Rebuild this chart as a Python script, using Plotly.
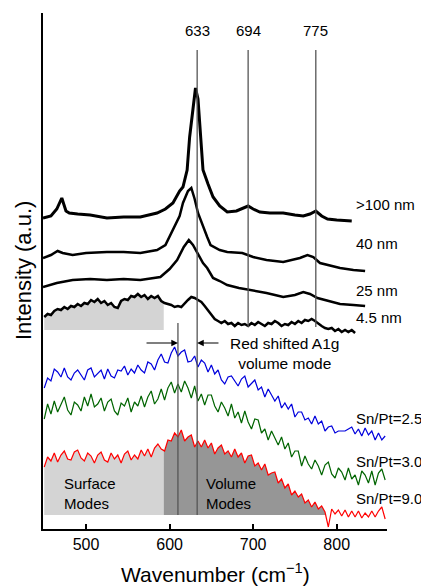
import plotly.graph_objects as go

FONT = "Liberation Sans, Arial, Helvetica, sans-serif"

# ---- black spectra (particle size series) ----
X_100 = [448.5, 458, 465, 471, 476, 480, 490, 505, 525, 545, 565, 585, 595, 604, 612, 616, 621, 624, 628, 631,
         634, 637, 640, 646, 652, 660, 669, 680, 694, 700, 708, 720, 736, 750, 760, 768, 775, 782, 789, 800, 818]
Y_100 = [311, 313, 320, 331, 318, 316, 315, 314, 311, 312, 312, 316, 320, 326, 338, 342, 359, 392, 420, 441,
         430, 392, 359, 345, 332, 323, 317, 318, 323, 320, 317, 316, 316, 314, 313, 315, 318, 313, 310, 309, 308]

X_40 = [448.5, 458, 466, 472, 484, 500, 525, 545, 565, 585, 595, 604, 612, 616, 622, 626, 630, 634, 640, 645,
        649, 660, 669, 687, 700, 716, 736, 756, 765, 772, 780, 795, 804, 820, 834]
Y_40 = [271, 274, 278, 276, 274, 276, 277, 277, 276, 279, 284, 299, 313, 326, 338, 341, 330, 316, 302, 292,
        284, 279, 277, 276, 272, 269, 267, 271, 274, 272, 266, 263, 261, 259, 258]

X_25 = [448.5, 465, 484, 505, 525, 545, 565, 589, 600, 609, 617, 623, 628, 633, 640, 645, 652, 660, 669, 683,
        696, 716, 736, 750, 760, 768, 777, 790, 804, 820, 834]
Y_25 = [242, 246, 249, 250, 249, 250, 249, 252, 260, 269, 282, 289, 284, 276, 266, 261, 251, 248, 244, 241,
        239, 236, 232, 234, 237, 235, 231, 228, 225, 224, 223]

# 4.5 nm, sampled every 4 cm-1 from 450
Y_45 = [212, 215, 214, 218, 220, 219, 222, 220, 223, 222,
        225, 223, 226, 225, 229, 227, 230, 226, 228, 224,
        226, 222, 221, 228, 230, 229, 233, 232, 235, 232,
        234, 230, 233, 231, 233, 228, 226, 225, 224, 222,
        223, 222, 226, 229, 232, 231, 229, 227, 223, 219,
        215, 210, 208, 206, 208, 205, 206, 203, 206, 204,
        205, 203, 206, 204, 207, 205, 203, 206, 205, 208,
        206, 203, 205, 204, 207, 205, 208, 206, 209, 208,
        210, 208, 205, 203, 201, 200, 201, 198, 200, 197,
        199, 197, 199, 196]

# ---- coloured spectra (Sn/Pt series), sampled every 4 cm-1 from 450 ----
Y_SN25 = [141, 151, 148, 160, 157, 152, 161, 152, 149, 156,
          159, 154, 149, 159, 161, 152, 155, 159, 150, 160,
          153, 151, 159, 158, 163, 154, 160, 156, 164, 159,
          156, 167, 165, 159, 169, 175, 167, 166, 176, 182,
          173, 177, 179, 167, 168, 173, 162, 169, 166, 157,
          164, 155, 159, 149, 145, 152, 153, 148, 143, 150,
          153, 142, 145, 149, 139, 142, 132, 140, 134, 128,
          133, 121, 126, 120, 125, 112, 117, 117, 109, 111,
          105, 113, 105, 108, 98, 102, 103, 96, 98, 98,
          98, 100, 102, 95, 100, 93, 101, 94, 98, 89,
          96, 89, 93]
Y_SN30 = [110, 125, 115, 128, 117, 125, 132, 119, 114, 127,
          124, 118, 132, 123, 135, 122, 125, 131, 118, 127,
          130, 118, 114, 126, 123, 131, 117, 127, 123, 133,
          122, 132, 138, 125, 130, 140, 129, 141, 147, 136,
          145, 137, 148, 141, 131, 143, 128, 135, 124, 134,
          134, 123, 117, 127, 121, 113, 125, 111, 117, 106,
          118, 107, 100, 110, 109, 96, 100, 89, 98, 91,
          84, 92, 80, 86, 72, 78, 78, 63, 73, 65,
          60, 69, 63, 54, 64, 67, 55, 51, 61, 57,
          49, 61, 50, 54, 44, 58, 54, 46, 58, 44,
          56, 60, 49]
Y_SN90 = [62, 72, 68, 76, 67, 74, 78, 70, 69, 77,
          79, 71, 68, 76, 73, 66, 74, 77, 69, 67,
          76, 70, 74, 66, 75, 78, 69, 74, 70, 79,
          73, 80, 72, 81, 85, 80, 78, 89, 88, 96,
          92, 99, 88, 92, 94, 82, 88, 82, 89, 81,
          86, 75, 81, 84, 75, 78, 72, 80, 72, 76,
          66, 73, 74, 63, 66, 59, 65, 54, 56, 57,
          46, 50, 41, 45, 34, 38, 32, 35, 26, 29,
          22, 27, 20, 23, 17, 2, 20, 15, 19, 13,
          19, 12, 18, 12, 18, 11, 16, 12, 18, 12,
          18, 22, 10]

GRID_START, GRID_STEP = 450, 4

def grid(n):
    return [GRID_START + GRID_STEP * i for i in range(n)]

X_45 = grid(len(Y_45))
X_SN = grid(len(Y_SN25))

# region boundaries
SURFACE_END = 593
VOLUME_END = 786
BASE_BOTTOM = 14
BASE_TOP = 199

PEAKS = [633, 694, 775]
SHIFTED = 610

fig = go.Figure()

def poly(xs, ys, x0, x1, base, left_edge=None, right_edge=None):
    sx = [x for x in xs if x0 <= x <= x1]
    sy = [y for x, y in zip(xs, ys) if x0 <= x <= x1]
    px, py = list(sx), list(sy)
    if left_edge is not None:
        px = [left_edge] + px
        py = [sy[0]] + py
    if right_edge is not None:
        px = px + [right_edge]
        py = py + [sy[-1]]
    px += [px[-1], px[0]]
    py += [base, base]
    return px, py

LIGHT = "#d4d4d4"
DARK = "#969696"

# fills
px, py = poly(X_45, Y_45, 450, 590, BASE_TOP, right_edge=SURFACE_END)
fig.add_trace(go.Scatter(x=px, y=py, fill="toself", fillcolor=LIGHT, line=dict(width=0), mode="lines", hoverinfo="skip"))
px, py = poly(X_SN, Y_SN90, 450, 590, BASE_BOTTOM, right_edge=SURFACE_END)
fig.add_trace(go.Scatter(x=px, y=py, fill="toself", fillcolor=LIGHT, line=dict(width=0), mode="lines", hoverinfo="skip"))
px, py = poly(X_SN, Y_SN90, 594, VOLUME_END, BASE_BOTTOM, left_edge=SURFACE_END)
fig.add_trace(go.Scatter(x=px, y=py, fill="toself", fillcolor=DARK, line=dict(width=0), mode="lines", hoverinfo="skip"))

# black curves
for xs, ys, w in [(X_100, Y_100, 3), (X_40, Y_40, 2.5), (X_25, Y_25, 2.5), (X_45, Y_45, 2.5)]:
    fig.add_trace(go.Scatter(x=xs, y=ys, mode="lines", line=dict(color="black", width=w)))

# coloured curves
for ys, c in [(Y_SN25, "#0000dd"), (Y_SN30, "#006400"), (Y_SN90, "#ff0000")]:
    fig.add_trace(go.Scatter(x=X_SN, y=ys, mode="lines", line=dict(color=c, width=1.2)))

# vertical reference lines
LINE_TOP = 479
LINE_MID = 202
LINE_SHIFT_TOP = 206
vlines = [(PEAKS[0], LINE_TOP, BASE_BOTTOM), (PEAKS[1], LINE_TOP, LINE_MID), (PEAKS[2], LINE_TOP, LINE_MID),
          (SHIFTED, LINE_SHIFT_TOP, BASE_BOTTOM)]
for x, y0, y1 in vlines:
    fig.add_trace(go.Scatter(x=[x, x], y=[y0, y1], mode="lines", line=dict(color="#555555", width=1.3)))

ann = []
def txt(x, y, t, size=15, xanchor="left", align="left"):
    ann.append(dict(x=x, y=y, xref="x", yref="y", text=t, showarrow=False, xanchor=xanchor, yanchor="middle",
                    align=align, font=dict(family=FONT, size=size, color="black")))

for p in PEAKS:
    txt(p, 499, str(p), xanchor="center", align="center")

SIZE_LABELS = [">100 nm", "40 nm", "25 nm", "4.5 nm"]
SIZE_Y = [325, 286, 239, 212]
for t, y in zip(SIZE_LABELS, SIZE_Y):
    txt(820.5, y, t)

SN_LABELS = ["Sn/Pt=2.5", "Sn/Pt=3.0", "Sn/Pt=9.0"]
SN_Y = [111, 68, 31]
for t, y in zip(SN_LABELS, SN_Y):
    txt(820.5, y, t)

txt(471, 36, "Surface<br>Modes")
txt(641, 36, "Volume<br>Modes")
txt(738, 176, "Red shifted A1g<br>volume mode", size=15.5, xanchor="center", align="center")

ARROW_Y = 186
for tip, tail in [(SHIFTED, 570.6), (PEAKS[0], 660.3)]:
    ann.append(dict(x=tip, y=ARROW_Y, ax=tail, ay=ARROW_Y, xref="x", yref="y", axref="x", ayref="y",
                    text="", showarrow=True, arrowhead=2, arrowsize=1.1, arrowwidth=1.2, arrowcolor="black"))

ann.append(dict(x=-0.058, y=0.5, xref="paper", yref="paper", text="Intensity (a.u.)", showarrow=False,
                textangle=-90, xanchor="center", yanchor="middle", font=dict(family=FONT, size=22, color="black")))
ann.append(dict(x=0.5, y=-0.085, xref="paper", yref="paper", text="Wavenumber (cm<sup>−1</sup>)", showarrow=False,
                xanchor="center", yanchor="middle", font=dict(family=FONT, size=21, color="black")))

fig.update_layout(
    width=421, height=587, showlegend=False,
    margin=dict(l=43, r=34, t=13, b=58),
    plot_bgcolor="white", paper_bgcolor="white",
    annotations=ann,
    font=dict(family=FONT, color="black"),
    xaxis=dict(range=[448.5, 860.2], tickvals=[500, 600, 700, 800], ticks="inside", ticklen=5, tickwidth=1.5,
               tickcolor="black", showline=True, linecolor="black", linewidth=2, showgrid=False, zeroline=False,
               tickfont=dict(family=FONT, size=16, color="black")),
    yaxis=dict(range=[0, 516], showline=True, linecolor="black", linewidth=2, showticklabels=False, ticks="",
               showgrid=False, zeroline=False),
)

fig.write_html("out.html", config={"displayModeBar": False},
               post_script="document.body.style.margin='0';document.body.style.overflow='hidden';")
